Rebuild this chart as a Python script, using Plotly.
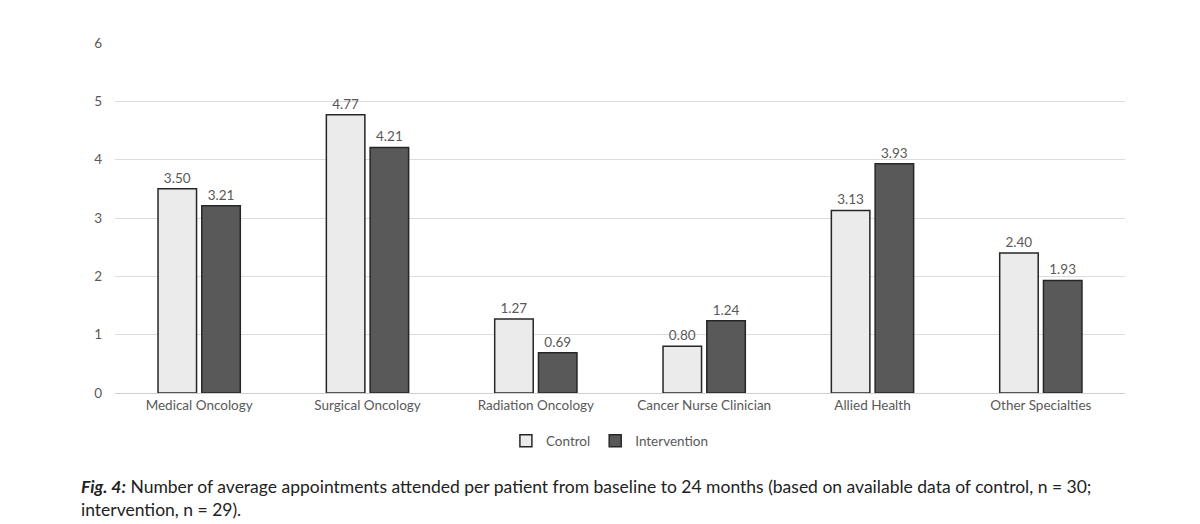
import plotly.graph_objects as go

categories = [
    "Medical Oncology",
    "Surgical Oncology",
    "Radiation Oncology",
    "Cancer Nurse Clinician",
    "Allied Health",
    "Other Specialties",
]
control = [3.50, 4.77, 1.27, 0.80, 3.13, 2.40]
intervention = [3.21, 4.21, 0.69, 1.24, 3.93, 1.93]
y_ticks = [0, 1, 2, 3, 4, 5, 6]

TICK_FONT = dict(family="Lato, Carlito, sans-serif", size=13.5, color="#595959")

fig = go.Figure()
fig.add_trace(
    go.Bar(
        x=categories,
        y=control,
        name="Control",
        marker=dict(color="#ebebeb", line=dict(color="#262626", width=1.5)),
        text=[f"{v:.2f}" for v in control],
        textposition="outside",
        textfont=TICK_FONT,
        cliponaxis=False,
    )
)
fig.add_trace(
    go.Bar(
        x=categories,
        y=intervention,
        name="Intervention",
        marker=dict(color="#595959", line=dict(color="#262626", width=1.5)),
        text=[f"{v:.2f}" for v in intervention],
        textposition="outside",
        textfont=TICK_FONT,
        cliponaxis=False,
    )
)

# figure caption below the chart
fig.add_annotation(
    xref="paper",
    yref="paper",
    x=-0.036,
    y=-0.232,
    xanchor="left",
    yanchor="top",
    align="left",
    showarrow=False,
    text=(
        "<b><i>Fig. 4:</i></b> Number of average appointments attended per patient from baseline "
        "to 24 months (based on available data of control, n = 30;<br>intervention, n = 29)."
    ),
    font=dict(family="Lato, Open Sans, sans-serif", size=17.5, color="#222222"),
)

# page body has an 8px margin, so the figure is shrunk and margins offset by 8px
fig.update_layout(
    width=1192,
    height=516,
    margin=dict(l=107, r=75, t=35, b=131),
    plot_bgcolor="white",
    paper_bgcolor="white",
    barmode="group",
    bargap=0.48,
    bargroupgap=0.12,
    showlegend=True,
    legend=dict(
        orientation="h",
        xanchor="center",
        x=0.49,
        yanchor="top",
        y=-0.093,
        font=TICK_FONT,
        itemwidth=30,
        traceorder="normal",
    ),
)
fig.update_xaxes(
    tickfont=TICK_FONT,
    showline=True,
    linecolor="#d0d0d0",
    linewidth=1,
    ticks="",
)
fig.update_yaxes(
    range=[0, 6],
    tickvals=y_ticks,
    tickfont=TICK_FONT,
    showgrid=True,
    gridcolor="#dcdcdc",
    gridwidth=1,
    zeroline=False,
    ticklabelstandoff=12,
)

fig.write_html("out.html")
